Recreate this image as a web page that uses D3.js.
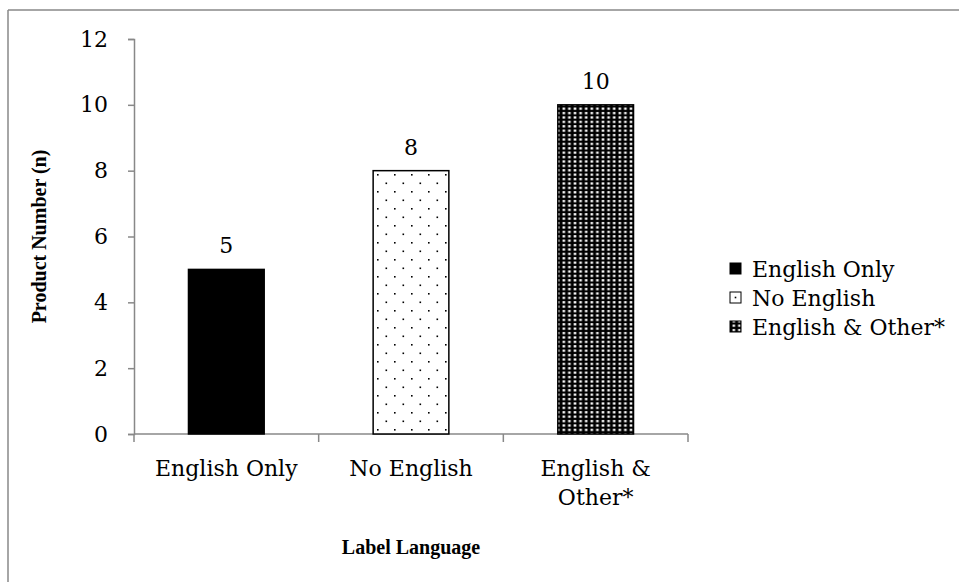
<!DOCTYPE html>
<html><head><meta charset="utf-8">
<script src="https://cdn.jsdelivr.net/npm/d3@7"></script>
<style>
html,body{margin:0;padding:0;background:#fff;}
svg{display:block;}
text{font-family:"DejaVu Serif",serif;fill:#000;}
text.ttl{font-family:"Liberation Serif","Times New Roman",serif;}
</style></head>
<body>
<script>
const categories = ["English Only", "No English", "English & Other*"];
const categoryLines = [["English Only"], ["No English"], ["English &", "Other*"]];
const values = [5, 8, 10];
const yTicks = [0, 2, 4, 6, 8, 10, 12];
const xTitle = "Label Language";
const yTitle = "Product Number (n)";

const W = 959, H = 582;
const FS = "22px", TS = "20px";
const svg = d3.select("body").append("svg").attr("width", W).attr("height", H);
const defs = svg.append("defs");

// sparse dots
const p1 = defs.append("pattern").attr("id","dots").attr("patternUnits","userSpaceOnUse")
  .attr("width",17).attr("height",17).attr("x",3).attr("y",4);
p1.append("rect").attr("width",17).attr("height",17).attr("fill","#fff");
p1.append("rect").attr("x",0).attr("y",0).attr("width",1.6).attr("height",1.6).attr("fill","#000");
p1.append("rect").attr("x",8.5).attr("y",8.5).attr("width",1.6).attr("height",1.6).attr("fill","#000");

// dense black with white squares
const p2 = defs.append("pattern").attr("id","dense").attr("patternUnits","userSpaceOnUse")
  .attr("width",5.6).attr("height",4.4).attr("x",1).attr("y",1);
p2.append("rect").attr("width",5.6).attr("height",4.4).attr("fill","#000");
p2.append("rect").attr("x",1.5).attr("y",1).attr("width",2.6).attr("height",2.2).attr("fill","#fff");

const fills = ["#000", "url(#dots)", "url(#dense)"];

// outer frame (top and left visible)
svg.append("line").attr("x1",8).attr("x2",W).attr("y1",10).attr("y2",10).attr("stroke","#888").attr("stroke-width",1.5);
svg.append("line").attr("x1",8).attr("x2",8).attr("y1",10).attr("y2",H).attr("stroke","#888").attr("stroke-width",1.5);

const x0 = 134, x1 = 688, yTop = 39, yBot = 434;
const x = d3.scaleBand().domain(categories).range([x0, x1]).paddingInner(0.59).paddingOuter(0.295);
const y = d3.scaleLinear().domain([0, 12]).range([yBot, yTop]);

// y axis
const yAxis = svg.append("g").attr("transform", `translate(${x0},0)`)
  .call(d3.axisLeft(y).tickValues(yTicks).tickSize(6).tickPadding(20));
yAxis.select(".domain").attr("stroke","#888").attr("stroke-width",1.5);
yAxis.selectAll(".tick line").attr("stroke","#888").attr("stroke-width",1.5);
yAxis.selectAll(".tick text").style("font-family","DejaVu Serif").style("font-size",FS).attr("fill","#000");

// x axis
const xb = d3.scaleLinear().domain([0,3]).range([x0, x1]);
const xg = svg.append("g").attr("transform", `translate(0,${yBot})`);
xg.append("line").attr("x1",x0).attr("x2",x1).attr("stroke","#888").attr("stroke-width",1.5);
xg.selectAll("line.tk").data(d3.range(4)).join("line").attr("class","tk")
  .attr("x1",d=>xb(d)).attr("x2",d=>xb(d)).attr("y1",0).attr("y2",8)
  .attr("stroke","#888").attr("stroke-width",1.5);

// bars
svg.selectAll("rect.bar").data(values).join("rect").attr("class","bar")
  .attr("x",(d,i)=>x(categories[i])).attr("width",x.bandwidth())
  .attr("y",d=>y(d)).attr("height",d=>y(0)-y(d))
  .attr("fill",(d,i)=>fills[i]).attr("stroke","#000").attr("stroke-width",1.5);

// value labels
svg.selectAll("text.val").data(values).join("text").attr("class","val")
  .attr("x",(d,i)=>x(categories[i])+x.bandwidth()/2).attr("y",d=>y(d)-16)
  .attr("text-anchor","middle").style("font-size",FS).text(d=>d);

// category labels
categoryLines.forEach((lines,i)=>{
  const t = svg.append("text").attr("x", x(categories[i])+x.bandwidth()/2).attr("y", 476)
    .attr("text-anchor","middle").style("font-size",FS);
  lines.forEach((l,j)=>t.append("tspan").attr("x", x(categories[i])+x.bandwidth()/2).attr("dy", j?29:0).text(l));
});

// titles
svg.append("text").attr("class","ttl").attr("x",(x0+x1)/2).attr("y",554).attr("text-anchor","middle")
  .style("font-size",TS).style("font-weight","bold").text(xTitle);
svg.append("text").attr("class","ttl").attr("transform",`translate(46,${(yTop+yBot)/2}) rotate(-90)`).attr("text-anchor","middle")
  .style("font-size",TS).style("font-weight","bold").text(yTitle);

// legend
const lg = svg.append("g").attr("transform","translate(730,269)");
categories.forEach((c,i)=>{
  const g = lg.append("g").attr("transform",`translate(0,${i*29})`);
  g.append("rect").attr("x",0).attr("y",-6).attr("width",11).attr("height",11)
    .attr("fill",fills[i]==="url(#dots)"?"#fff":fills[i]).attr("stroke","#000").attr("stroke-width",1);
  if(i===1) g.append("rect").attr("x",4.7).attr("y",-1.3).attr("width",1.6).attr("height",1.6).attr("fill","#000");
  g.append("text").attr("x",22).attr("y",8).style("font-size",FS).text(c);
});
</script>
</body></html>
